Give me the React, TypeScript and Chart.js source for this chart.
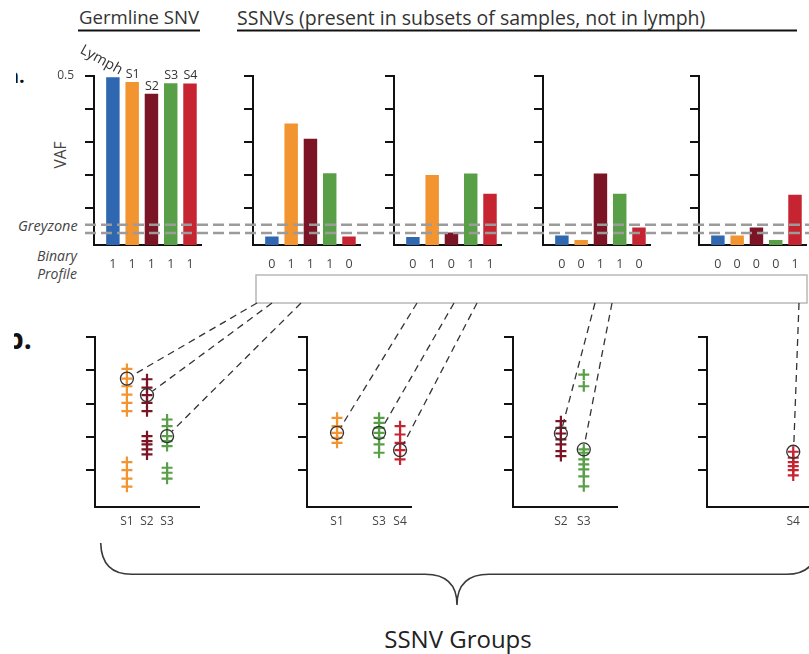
import React, { useEffect, useRef } from 'react';
import { Chart, registerables } from 'chart.js';

Chart.register(...registerables);

// ---------------- DATA ----------------
const SAMPLES = ['Lymph', 'S1', 'S2', 'S3', 'S4'];
const SAMPLE_COLORS = ['#2f68b0', '#f29530', '#7b1525', '#589f48', '#c62430'];

const GERMLINE_VAF = [0.495, 0.481, 0.445, 0.477, 0.476];
const GERMLINE_PROFILE = ['1', '1', '1', '1', '1'];

const SSNV1_VAF = [0.014, 0.355, 0.309, 0.205, 0.014];
const SSNV1_PROFILE = ['0', '1', '1', '1', '0'];
const SSNV2_VAF = [0.012, 0.2, 0.026, 0.204, 0.143];
const SSNV2_PROFILE = ['0', '1', '0', '1', '1'];
const SSNV3_VAF = [0.017, 0.003, 0.204, 0.143, 0.041];
const SSNV3_PROFILE = ['0', '0', '1', '1', '0'];
const SSNV4_VAF = [0.017, 0.017, 0.041, 0.003, 0.14];
const SSNV4_PROFILE = ['0', '0', '0', '0', '1'];

const GREYZONE = [0.025, 0.05];
const VAF_TICKS = [0.1, 0.2, 0.3, 0.4, 0.5];
const VAF_TICK_LABELS = ['', '', '', '', '0.5'];
const VAF_MIN = -0.011;
const VAF_MAX = 0.5;

// SSNV groups (sample index into SAMPLES), VAF of each SSNV in the group
const GROUP1_SAMPLES = [1, 2, 3];
const GROUP1_S1 = [0.404, 0.375, 0.352, 0.327, 0.302, 0.277, 0.124, 0.1, 0.074, 0.05];
const GROUP1_S2 = [0.373, 0.348, 0.325, 0.302, 0.277, 0.202, 0.187, 0.177, 0.162, 0.147];
const GROUP1_S3 = [0.252, 0.232, 0.202, 0.187, 0.172, 0.107, 0.092, 0.074];
const GROUP1_CIRCLED = [0.375, 0.325, 0.202];

const GROUP2_SAMPLES = [1, 3, 4];
const GROUP2_S1 = [0.257, 0.232, 0.212, 0.197, 0.182];
const GROUP2_S3 = [0.257, 0.242, 0.227, 0.212, 0.197, 0.177, 0.152];
const GROUP2_S4 = [0.232, 0.207, 0.182, 0.16, 0.132];
const GROUP2_CIRCLED = [0.212, 0.212, 0.16];

const GROUP3_SAMPLES = [2, 3];
const GROUP3_S2 = [0.247, 0.227, 0.21, 0.192, 0.177, 0.157, 0.142];
const GROUP3_S3 = [0.387, 0.352, 0.162, 0.152, 0.132, 0.117, 0.102, 0.081, 0.051];
const GROUP3_CIRCLED = [0.21, 0.162];

const GROUP4_SAMPLES = [4];
const GROUP4_S4 = [0.155, 0.137, 0.124, 0.112, 0.1, 0.084];
const GROUP4_CIRCLED = [0.155];

// ---------------- LAYOUT ----------------
const FONT = "'Open Sans', 'Noto Sans', sans-serif";
const AXIS_W = 108;
const TOP_CANVAS_TOP = 36;
const TOP_PAD = 40;
const TOP_PLOT_H = 169;
const TOP_XAXIS_H = 30;
const TOP_YAXIS_W = 40;
const BAR_AXIS_LEFT = [94, 252.7, 394, 542.7, 699.3];
const BAR_X_RANGE = [0.02, 5.59];

const BOT_CANVAS_TOP = 327;
const BOT_PAD = 10;
const BOT_PLOT_H = 170;
const BOT_XAXIS_H = 28;
const BOT_YAXIS_W = 20;
const SCATTER_AXIS_LEFT = [95, 307.3, 512.7, 707.3];
const SCATTER_X_RANGE = [[-0.59, 4.6], [-0.43, 4.53], [-0.093, 4.46], [-0.257, 4.886]];
const CONNECTOR_TOP_X = [[257, 272, 301], [417, 454, 477], [595, 612], [799]];
const BOX = { x: 256, y: 275, w: 551, h: 28 };

const TOP_PANELS = [
  { vaf: GERMLINE_VAF, profile: GERMLINE_PROFILE, germline: true },
  { vaf: SSNV1_VAF, profile: SSNV1_PROFILE, germline: false },
  { vaf: SSNV2_VAF, profile: SSNV2_PROFILE, germline: false },
  { vaf: SSNV3_VAF, profile: SSNV3_PROFILE, germline: false },
  { vaf: SSNV4_VAF, profile: SSNV4_PROFILE, germline: false },
];

const GROUPS = [
  { samples: GROUP1_SAMPLES, vaf: [GROUP1_S1, GROUP1_S2, GROUP1_S3], circled: GROUP1_CIRCLED },
  { samples: GROUP2_SAMPLES, vaf: [GROUP2_S1, GROUP2_S3, GROUP2_S4], circled: GROUP2_CIRCLED },
  { samples: GROUP3_SAMPLES, vaf: [GROUP3_S2, GROUP3_S3], circled: GROUP3_CIRCLED },
  { samples: GROUP4_SAMPLES, vaf: [GROUP4_S4], circled: GROUP4_CIRCLED },
];

const sampleLabelPlugin = {
  id: 'sampleLabels',
  afterDatasetsDraw(chart: any) {
    const ctx = chart.ctx;
    const meta = chart.getDatasetMeta(0);
    ctx.save();
    ctx.fillStyle = '#333';
    meta.data.forEach((bar: any, i: number) => {
      if (i === 0) {
        ctx.save();
        ctx.font = `14.5px ${FONT}`;
        ctx.translate(bar.x + 5, bar.y);
        ctx.rotate((29 * Math.PI) / 180);
        ctx.textAlign = 'right';
        ctx.textBaseline = 'bottom';
        ctx.fillText(SAMPLES[i], 0, 0);
        ctx.restore();
      } else {
        ctx.font = `12.5px ${FONT}`;
        ctx.textAlign = 'center';
        ctx.textBaseline = 'bottom';
        ctx.fillText(SAMPLES[i], bar.x + 0.5, bar.y - 2);
      }
    });
    ctx.restore();
  },
};

function yAxis(showLabels: boolean, width: number) {
  return {
    type: 'linear',
    min: VAF_MIN,
    max: VAF_MAX,
    afterBuildTicks: (s: any) => {
      s.ticks = VAF_TICKS.map((v) => ({ value: v }));
    },
    afterFit: (s: any) => {
      s.width = width;
    },
    ticks: {
      display: showLabels,
      callback: (_v: any, i: number) => VAF_TICK_LABELS[i],
      padding: 11,
      color: '#444',
      font: { family: FONT, size: 12 },
    },
    grid: { drawOnChartArea: false, drawTicks: true, tickLength: 9, color: '#111', lineWidth: 2 },
    border: { display: true, color: '#111', width: 2 },
  };
}

function barConfig(panel: any): any {
  return {
    type: 'bar',
    data: {
      datasets: [
        {
          data: panel.vaf.map((v: number, i: number) => ({ x: i + 1, y: v })),
          backgroundColor: SAMPLE_COLORS,
          base: VAF_MIN,
          barThickness: 12.8,
          borderWidth: 0,
        },
      ],
    },
    options: {
      animation: false,
      responsive: false,
      devicePixelRatio: 1,
      layout: { padding: { top: TOP_PAD, right: 4, left: 0, bottom: 0 } },
      plugins: { legend: { display: false }, tooltip: { enabled: false } },
      scales: {
        x: {
          type: 'linear',
          min: BAR_X_RANGE[0],
          max: BAR_X_RANGE[1],
          offset: false,
          afterBuildTicks: (s: any) => {
            s.ticks = panel.profile.map((_p: string, i: number) => ({ value: i + 1 }));
          },
          afterFit: (s: any) => {
            s.height = TOP_XAXIS_H;
          },
          ticks: {
            autoSkip: false,
            maxRotation: 0,
            padding: 12,
            color: '#444',
            font: { family: FONT, size: 12.5 },
            callback: (v: number) => panel.profile[v - 1] ?? '',
          },
          grid: { display: false, drawTicks: false },
          border: { display: true, color: '#111', width: 2 },
        },
        y: yAxis(panel.germline, TOP_YAXIS_W),
      },
    },
    plugins: panel.germline ? [sampleLabelPlugin] : [],
  };
}

function scatterConfig(group: any, range: number[]): any {
  const datasets: any[] = [
    {
      data: group.samples.map((s: number, i: number) => ({ x: s, y: group.circled[i] })),
      pointStyle: 'circle',
      pointRadius: 6.5,
      borderColor: '#333',
      borderWidth: 1.3,
      backgroundColor: 'rgba(0,0,0,0)',
      order: 0,
    },
  ];
  group.samples.forEach((s: number, i: number) => {
    datasets.push({
      data: group.vaf[i].map((v: number) => ({ x: s, y: v })),
      pointStyle: 'cross',
      pointRadius: 5.5,
      borderColor: SAMPLE_COLORS[s],
      backgroundColor: SAMPLE_COLORS[s],
      borderWidth: 2.2,
      order: 1,
    });
  });
  return {
    type: 'scatter',
    data: { datasets },
    options: {
      animation: false,
      responsive: false,
      devicePixelRatio: 1,
      layout: { padding: { top: BOT_PAD, right: 4, left: 0, bottom: 0 } },
      plugins: { legend: { display: false }, tooltip: { enabled: false } },
      scales: {
        x: {
          type: 'linear',
          min: range[0],
          max: range[1],
          afterBuildTicks: (s: any) => {
            s.ticks = group.samples.map((v: number) => ({ value: v }));
          },
          afterFit: (s: any) => {
            s.height = BOT_XAXIS_H;
          },
          ticks: {
            autoSkip: false,
            maxRotation: 0,
            padding: 7,
            color: '#444',
            font: { family: FONT, size: 12 },
            callback: (v: number) => SAMPLES[v] ?? '',
          },
          grid: { display: false, drawTicks: false },
          border: { display: true, color: '#111', width: 2 },
        },
        y: yAxis(false, BOT_YAXIS_W),
      },
    },
  };
}

const textBase: React.CSSProperties = {
  position: 'absolute',
  fontFamily: FONT,
  color: '#333',
  whiteSpace: 'nowrap',
  lineHeight: 1,
};

export default function App() {
  const topRefs = useRef<(HTMLCanvasElement | null)[]>([]);
  const botRefs = useRef<(HTMLCanvasElement | null)[]>([]);
  const overlayRef = useRef<HTMLCanvasElement | null>(null);

  useEffect(() => {
    const topCharts = TOP_PANELS.map((p, i) => new Chart(topRefs.current[i] as HTMLCanvasElement, barConfig(p)));
    const botCharts = GROUPS.map(
      (g, i) => new Chart(botRefs.current[i] as HTMLCanvasElement, scatterConfig(g, SCATTER_X_RANGE[i]))
    );

    const ov = overlayRef.current as HTMLCanvasElement;
    const ctx = ov.getContext('2d') as CanvasRenderingContext2D;
    ctx.clearRect(0, 0, ov.width, ov.height);

    // header underlines
    ctx.fillStyle = '#111';
    ctx.fillRect(78, 29.5, 122, 2);
    ctx.fillRect(237, 29.5, 560, 2);

    // greyzone dashed lines
    const gy = topCharts[0].scales.y;
    ctx.save();
    ctx.strokeStyle = '#9b9b9b';
    ctx.lineWidth = 2.5;
    ctx.setLineDash([11, 5]);
    GREYZONE.forEach((v) => {
      const y = gy.getPixelForValue(v) + TOP_CANVAS_TOP;
      ctx.beginPath();
      ctx.moveTo(85, y);
      ctx.lineTo(809, y);
      ctx.stroke();
    });
    ctx.restore();

    // box
    ctx.save();
    ctx.strokeStyle = '#b8b8b8';
    ctx.lineWidth = 1.5;
    ctx.strokeRect(BOX.x, BOX.y, BOX.w, BOX.h);
    ctx.restore();

    // connectors
    ctx.save();
    ctx.strokeStyle = '#333';
    ctx.lineWidth = 1.3;
    ctx.setLineDash([7, 5]);
    botCharts.forEach((c, gi) => {
      const meta = c.getDatasetMeta(0);
      meta.data.forEach((pt: any, j: number) => {
        const cx = pt.x + SCATTER_AXIS_LEFT[gi] - BOT_YAXIS_W;
        const cy = pt.y + BOT_CANVAS_TOP;
        const sx = CONNECTOR_TOP_X[gi][j];
        const sy = BOX.y + BOX.h;
        const dx = cx - sx;
        const dy = cy - sy;
        const d = Math.sqrt(dx * dx + dy * dy);
        const r = 7;
        ctx.beginPath();
        ctx.moveTo(sx, sy);
        ctx.lineTo(cx - (dx / d) * r, cy - (dy / d) * r);
        ctx.stroke();
      });
    });
    ctx.restore();

    // brace
    ctx.save();
    ctx.strokeStyle = '#3a3a3a';
    ctx.lineWidth = 1.6;
    ctx.beginPath();
    ctx.moveTo(100.7, 543);
    ctx.quadraticCurveTo(101.5, 574.3, 131.7, 574.3);
    ctx.lineTo(425, 574.3);
    ctx.quadraticCurveTo(457, 574.3, 457, 605);
    ctx.quadraticCurveTo(457, 574.3, 489, 574.3);
    ctx.lineTo(786.7, 574.3);
    ctx.quadraticCurveTo(816.9, 574.3, 817.7, 543);
    ctx.stroke();
    ctx.restore();

    return () => {
      topCharts.forEach((c) => c.destroy());
      botCharts.forEach((c) => c.destroy());
    };
  }, []);

  const topW = TOP_YAXIS_W + AXIS_W + 4;
  const topH = TOP_PAD + TOP_PLOT_H + TOP_XAXIS_H;
  const botW = BOT_YAXIS_W + AXIS_W + 4;
  const botH = BOT_PAD + BOT_PLOT_H + BOT_XAXIS_H;

  return (
    <div
      style={{
        position: 'absolute',
        left: 0,
        top: 0,
        width: 809,
        height: 654,
        overflow: 'hidden',
        background: '#fff',
      }}
    >
      <div style={{ ...textBase, left: 79, top: 8, fontSize: 18.6 }}>Germline SNV</div>
      <div style={{ ...textBase, left: 237, top: 8, fontSize: 19.5 }}>
        SSNVs (present in subsets of samples, not in lymph)
      </div>
      <div style={{ position: 'absolute', left: 16, top: 64, width: 16, height: 26, overflow: 'hidden' }}>
        <div style={{ ...textBase, left: -9, top: 2, fontSize: 20, fontWeight: 700, color: '#111' }}>a.</div>
      </div>
      <div style={{ position: 'absolute', left: 14, top: 320, width: 30, height: 34, overflow: 'hidden' }}>
        <div style={{ ...textBase, left: -8, top: 4, fontSize: 28, fontWeight: 700, color: '#111' }}>b.</div>
      </div>
      <div
        style={{
          ...textBase,
          left: 61,
          top: 155,
          fontSize: 15.5,
          color: '#444',
          transform: 'translate(-50%, -50%) rotate(-90deg)',
        }}
      >
        VAF
      </div>
      <div style={{ ...textBase, left: 18, top: 219, fontSize: 14.5, fontStyle: 'italic', color: '#444' }}>
        Greyzone
      </div>
      <div
        style={{
          ...textBase,
          left: 34,
          top: 247,
          width: 46,
          textAlign: 'center',
          fontSize: 14,
          lineHeight: '18px',
          fontStyle: 'italic',
          color: '#444',
        }}
      >
        Binary
        <br />
        Profile
      </div>
      <div style={{ ...textBase, left: 458, top: 627, fontSize: 24, color: '#222', transform: 'translateX(-50%)' }}>
        SSNV Groups
      </div>

      {TOP_PANELS.map((_p, i) => (
        <canvas
          key={'t' + i}
          ref={(el) => {
            topRefs.current[i] = el;
          }}
          width={topW}
          height={topH}
          style={{
            position: 'absolute',
            left: BAR_AXIS_LEFT[i] - TOP_YAXIS_W,
            top: TOP_CANVAS_TOP,
            width: topW,
            height: topH,
          }}
        />
      ))}
      {GROUPS.map((_g, i) => (
        <canvas
          key={'b' + i}
          ref={(el) => {
            botRefs.current[i] = el;
          }}
          width={botW}
          height={botH}
          style={{
            position: 'absolute',
            left: SCATTER_AXIS_LEFT[i] - BOT_YAXIS_W,
            top: BOT_CANVAS_TOP,
            width: botW,
            height: botH,
          }}
        />
      ))}
      <canvas
        ref={overlayRef}
        width={809}
        height={654}
        style={{ position: 'absolute', left: 0, top: 0, width: 809, height: 654, pointerEvents: 'none' }}
      />
    </div>
  );
}
